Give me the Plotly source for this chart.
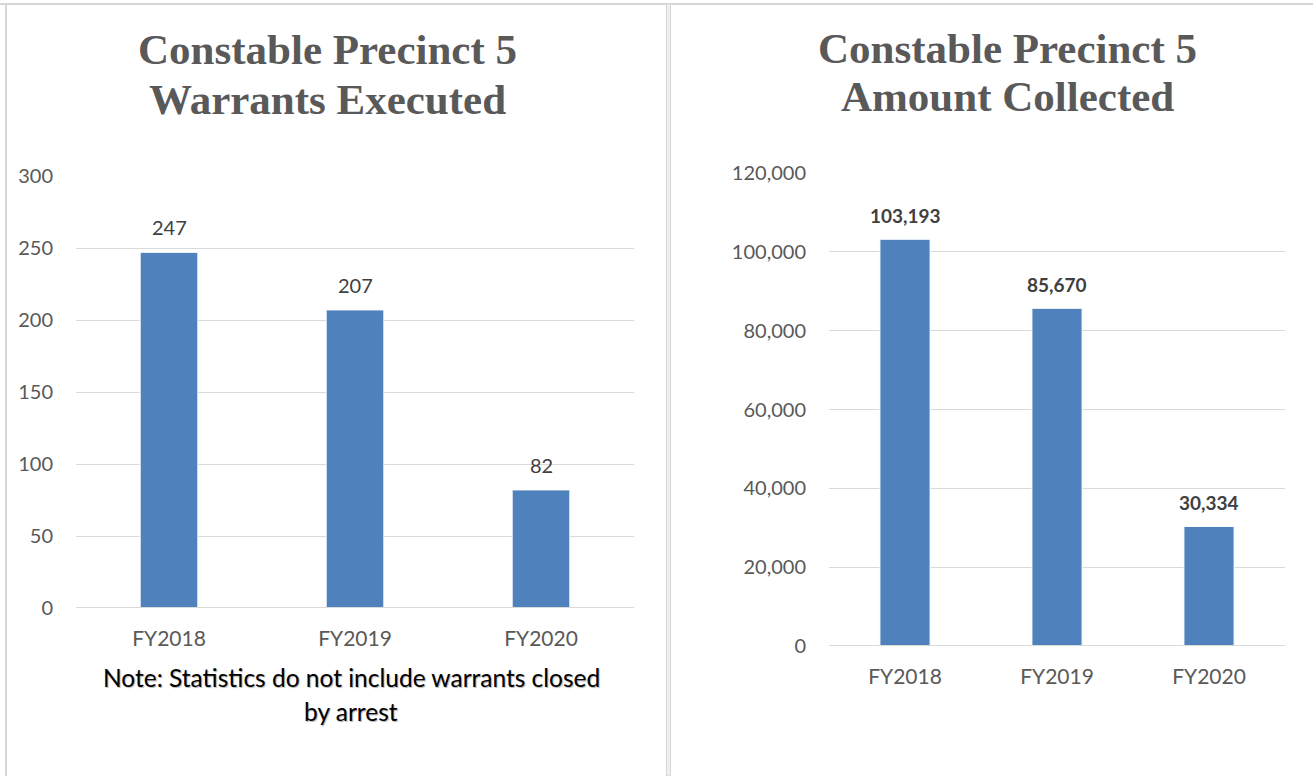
import plotly.graph_objects as go

# Fiscal years shown on both panels
years = ["FY2018", "FY2019", "FY2020"]

# Warrants executed per year
warrants = [247, 207, 82]
warrant_ticks = [0, 50, 100, 150, 200, 250, 300]

# Amount collected per year
collected = [103193, 85670, 30334]
collected_ticks = [0, 20000, 40000, 60000, 80000, 100000, 120000]

W, H = 1313, 776
BAR = "#4f81bd"
GRID = "#d9d9d9"
TICK_FONT = dict(family="Lato", size=20, color="#595959")
CAT_FONT = dict(family="Lato", size=21, color="#595959")
TITLE_FONT = dict(family="Liberation Serif", size=43, color="#595959", weight="bold")


def px(x):
    return x / W


def py(y):
    return 1 - y / H


fig = go.Figure()

fig.add_trace(go.Bar(x=years, y=warrants, width=0.31, marker=dict(color=BAR, line=dict(color="#ffffff", width=1)),
                     xaxis="x", yaxis="y", showlegend=False, hoverinfo="x+y"))
fig.add_trace(go.Bar(x=years, y=collected, width=0.33, marker=dict(color=BAR, line=dict(color="#ffffff", width=1)),
                     xaxis="x2", yaxis="y2", showlegend=False, hoverinfo="x+y"))

axis_common = dict(showline=False, zeroline=False, fixedrange=True, automargin=False)

fig.update_layout(
    template="none",
    width=W, height=H, autosize=False,
    margin=dict(l=0, r=0, t=0, b=0, pad=0, autoexpand=False),
    paper_bgcolor="white", plot_bgcolor="white",
    xaxis=dict(domain=[px(76), px(634)], anchor="y", type="category", showgrid=False,
               ticks="outside", ticklen=12, tickcolor="rgba(0,0,0,0)", tickfont=CAT_FONT, **axis_common),
    yaxis=dict(domain=[py(608), py(176)], anchor="x", range=[0, 300], tickvals=warrant_ticks,
               showgrid=True, gridcolor=GRID, gridwidth=1.3,
               ticks="outside", ticklen=18, tickcolor="rgba(0,0,0,0)", tickfont=TICK_FONT, **axis_common),
    xaxis2=dict(domain=[px(829), px(1285)], anchor="y2", type="category", showgrid=False,
                ticks="outside", ticklen=12, tickcolor="rgba(0,0,0,0)", tickfont=CAT_FONT, **axis_common),
    yaxis2=dict(domain=[py(646), py(173)], anchor="x2", range=[0, 120000], tickvals=collected_ticks,
                tickformat=",d", showgrid=True, gridcolor=GRID, gridwidth=1.3,
                ticks="outside", ticklen=18, tickcolor="rgba(0,0,0,0)", tickfont=TICK_FONT, **axis_common),
)

# Baselines under the bars
shapes = [
    dict(type="line", xref="x domain", yref="y", x0=0, x1=1, y0=0, y1=0, line=dict(color=GRID, width=2)),
    dict(type="line", xref="x2 domain", yref="y2", x0=0, x1=1, y0=0, y1=0, line=dict(color=GRID, width=2)),
]
# Panel frames
frame = dict(color="#d6d6d6", width=2)
shapes += [
    dict(type="line", xref="paper", yref="paper", x0=0, x1=1, y0=py(4), y1=py(4), line=frame),
    dict(type="line", xref="paper", yref="paper", x0=px(6), x1=px(6), y0=py(4), y1=0, line=frame),
    dict(type="rect", xref="paper", yref="paper", x0=px(666.5), x1=px(670.5), y0=py(4), y1=0,
         fillcolor="#efefef", line=dict(color="#d6d6d6", width=1)),
]
fig.update_layout(shapes=shapes)

annotations = []
# Value labels above bars
for yr, v in zip(years, warrants):
    annotations.append(dict(x=yr, y=v, xref="x", yref="y", text=f"{v}", showarrow=False,
                            yanchor="middle", yshift=25,
                            font=dict(family="Lato", size=20, color="#404040")))
for yr, v in zip(years, collected):
    annotations.append(dict(x=yr, y=v, xref="x2", yref="y2", text=f"{v:,}", showarrow=False,
                            yanchor="middle", yshift=24,
                            font=dict(family="Lato", size=19, color="#404040", weight="bold")))

# Panel titles
for x, y, t in [(327, 50, "Constable Precinct 5"), (327, 100, "Warrants Executed"),
                (1007, 48, "Constable Precinct 5"), (1007, 96, "Amount Collected")]:
    annotations.append(dict(x=px(x), y=py(y), xref="paper", yref="paper", text=t, showarrow=False,
                            xanchor="center", yanchor="middle", font=TITLE_FONT))

# Footnote under the warrants panel
note_font = dict(family="Lato", size=24.5, color="#000000", shadow="1px 1px 1px #b0b0b0")
annotations.append(dict(x=px(351), y=py(677), xref="paper", yref="paper",
                        text="Note: Statistics do not include warrants closed", showarrow=False,
                        xanchor="center", yanchor="middle", font=note_font))
annotations.append(dict(x=px(351), y=py(711), xref="paper", yref="paper", text="by arrest", showarrow=False,
                        xanchor="center", yanchor="middle", font=note_font))

fig.update_layout(annotations=annotations)

fig.write_html("out.html")
